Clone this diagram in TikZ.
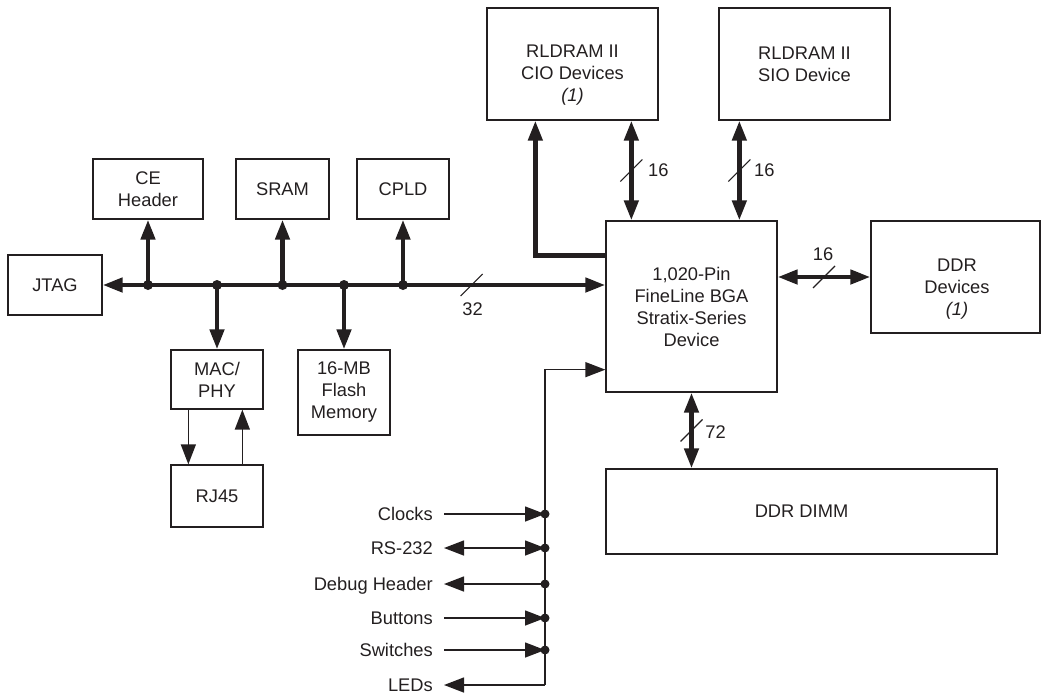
\documentclass[tikz,border=0pt]{standalone}
\usepackage{fontspec}
\setmainfont{Liberation Sans}
\usetikzlibrary{arrows.meta,calc}
\definecolor{ink}{HTML}{231F20}
\begin{document}
\begin{tikzpicture}[x=1pt,y=-1pt,
  every node/.style={font=\fontsize{18.3}{22}\selectfont, text=ink},
  box/.style={draw=ink, line width=1.3pt, inner sep=0pt, align=center},
  txt/.style={inner sep=0pt, align=center},
  bus/.style={draw=ink, line width=4.5pt, >={Triangle[length=20pt,width=14pt]}},
  wire/.style={draw=ink, line width=1.4pt, >={Triangle[length=20pt,width=15pt]}},
  slash/.style={draw=ink, line width=1.2pt},
  lab/.style={anchor=east, inner sep=0pt, text height=13pt, text depth=0pt},
  num/.style={inner sep=0pt}]
\useasboundingbox (0,0) rectangle (1041,694);

% boxes
\node[box,minimum width=171pt,minimum height=112pt] (cio) at (572.5,64) {};
\node[txt] (ciotxt) at (572.5,75.5) {RLDRAM II\\CIO Devices\\\textit{(1)}};
\node[box,minimum width=171pt,minimum height=112pt] (sio) at (804.5,64) {RLDRAM II\\SIO Device};
\node[box,minimum width=110pt,minimum height=60pt] (ce) at (148,189) {CE\\Header};
\node[box,minimum width=93pt,minimum height=60pt] (sram) at (282.5,189) {SRAM};
\node[box,minimum width=92pt,minimum height=60pt] (cpld) at (403,189) {CPLD};
\node[box,minimum width=94pt,minimum height=60pt] (jtag) at (55,285) {JTAG};
\node[box,minimum width=171pt,minimum height=171pt] (fpga) at (691.5,306.5) {1,020-Pin\\FineLine BGA\\Stratix-Series\\Device};
\node[box,minimum width=169pt,minimum height=112pt] (ddr) at (955.5,277) {};
\node[txt] (ddrtxt) at (957,289) {DDR\\Devices\\\textit{(1)}};
\node[box,minimum width=92pt,minimum height=59pt] (mac) at (217,379.5) {MAC/\\PHY};
\node[box,minimum width=92pt,minimum height=85pt] (flash) at (344,392.5) {16-MB\\Flash\\Memory};
\node[box,minimum width=92pt,minimum height=62pt] (rj45) at (217,496) {RJ45};
\node[box,minimum width=391pt,minimum height=85pt] (dimm) at (801.5,511.5) {DDR DIMM};

% main bus
\draw[bus,<->] (jtag.east) -- coordinate[pos=0.734] (s32) (fpga.west |- jtag.east);
\foreach \n in {ce,sram,cpld}{
  \draw[bus,->] (\n.south |- jtag.east) -- (\n.south);
  \fill[ink] (\n.south |- jtag.east) circle[radius=5pt];
}
\foreach \n in {mac,flash}{
  \draw[bus,->] (\n.north |- jtag.east) -- (\n.north);
  \fill[ink] (\n.north |- jtag.east) circle[radius=5pt];
}

% MAC/PHY <-> RJ45
\draw[wire,->] ($(mac.south west)+(18,0)$) -- ($(rj45.north west)+(18,0)$);
\draw[wire,->] ($(rj45.north west)+(72,0)$) -- ($(mac.south west)+(72,0)$);

% RLDRAM connections
\draw[bus,->] ($(fpga.north west)+(0,35)$) -| ($(cio.south west)+(49,0)$);
\draw[bus,<->] ($(cio.south west)+(145,0)$) -- coordinate[midway] (m1) ($(fpga.north west)+(26,0)$);
\draw[bus,<->] ($(sio.south west)+(21,0)$) -- coordinate[midway] (m2) ($(fpga.north west)+(134,0)$);
\draw[bus,<->] (fpga.east |- ddr.west) -- coordinate[midway] (m3) (ddr.west);
\draw[bus,<->] (fpga.south) -- coordinate[midway] (m4) (fpga.south |- dimm.north);

\foreach \m in {m1,m2,m3,m4,s32}
  \draw[slash] ($(\m)+(-11,11)$) -- ($(\m)+(11,-11)$);
\node[num] (l1) at ($(m1)+(27,0)$) {16};
\node[num] (l2) at ($(m2)+(25,0)$) {16};
\node[num] (l3) at ($(m3)+(-1,-23)$) {16};
\node[num] (l4) at ($(m4)+(24,1.5)$) {72};
\node[num] (l5) at ($(s32)+(1,24)$) {32};

% misc I/O
\node[lab] (clk)  at (433,514) {Clocks};
\node[lab] (rs)   at (433,548) {RS-232};
\node[lab] (dbg)  at (433,584) {Debug Header};
\node[lab] (btn)  at (433,618) {Buttons};
\node[lab] (sw)   at (433,650) {Switches};
\node[lab] (leds) at (433,685) {LEDs};
\coordinate (vb) at ($(leds.east)+(112,0)$);

\draw[wire,->] (vb) |- ($(fpga.south west)+(0,-23)$);
\draw[wire,<-] ([xshift=11pt]leds.east) -- (vb);
\draw[wire,->] ([xshift=11pt]clk.east) -- (vb |- clk.east);
\draw[wire,<->] ([xshift=11pt]rs.east) -- (vb |- rs.east);
\draw[wire,<-] ([xshift=11pt]dbg.east) -- (vb |- dbg.east);
\draw[wire,->] ([xshift=11pt]btn.east) -- (vb |- btn.east);
\draw[wire,->] ([xshift=11pt]sw.east) -- (vb |- sw.east);
\foreach \n in {clk,rs,dbg,btn,sw}
  \fill[ink] (vb |- \n.east) circle[radius=4.5pt];
\end{tikzpicture}
\end{document}
